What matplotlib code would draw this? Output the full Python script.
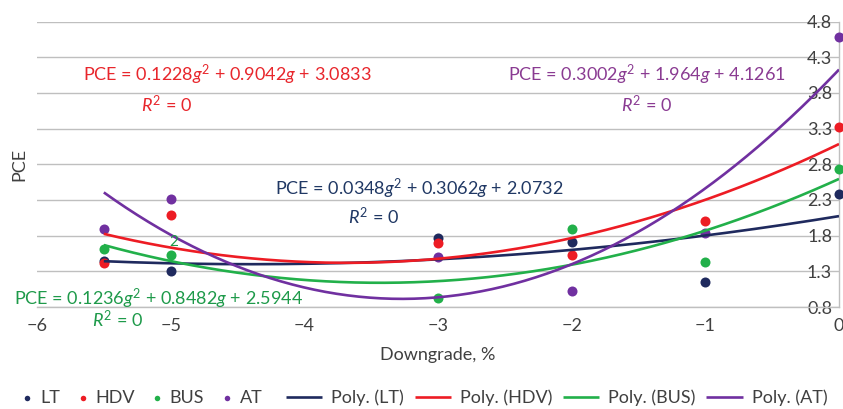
import numpy as np
import matplotlib.pyplot as plt

plt.rcParams['font.family'] = ['Lato', 'DejaVu Sans']
plt.rcParams['mathtext.fontset'] = 'custom'
plt.rcParams['mathtext.rm'] = 'Lato'
plt.rcParams['mathtext.it'] = 'Lato:italic'

# downgrade (%) and PCE values
grade = [-5.5, -5, -3, -2, -1, 0]
lt = [1.44, 1.30, 1.77, 1.71, 1.15, 2.38]
hdv = [1.42, 2.09, 1.70, 1.53, 2.00, 3.32]
bus = [1.61, 1.53, 0.93, 1.89, 1.43, 2.73]
at = [1.89, 2.31, 1.50, 1.02, 1.84, 4.58]

# polynomial trendline coefficients as printed on the chart (g^2, g, 1)
lt_fit = [0.0348, 0.3062, 2.0732]
hdv_fit = [0.1228, 0.9042, 3.0833]
bus_fit = [0.1236, 0.8482, 2.5944]
at_fit = [0.3002, 1.964, 4.1261]

names = ['LT', 'HDV', 'BUS', 'AT']
colors = ['#1F2A5E', '#ED1C24', '#22B04A', '#7030A0']
label_colors = ['#203864', '#E8262C', '#1E9A4A', '#8A3B92']
# label anchor (x, y) for equation and R^2 text, data coords
eq_pos = [(-3.14, 2.45), (-4.58, 4.05), (-5.09, 0.91), (-1.44, 4.05)]
r2_pos = [(-3.48, 2.07), (-5.03, 3.64), (-5.40, 0.62), (-1.44, 3.64)]

ser = [lt, hdv, bus, at]
fits = [lt_fit, hdv_fit, bus_fit, at_fit]

fig = plt.figure(figsize=(8.43, 4.09), dpi=100)
ax = fig.add_axes([37/843, 1-307/409, 802/843, 285.5/409])

grid_c = '#BFBFBF'
txt_c = '#404040'

pts = []
for y, c in zip(ser, colors):
    pts.append(ax.scatter(grade, y, s=52, color=c, zorder=3, clip_on=False, linewidths=0))

xs = np.linspace(grade[0], grade[-1], 200)
lines = []
for f, c in zip(fits, colors):
    ln, = ax.plot(xs, np.polyval(f, xs), color=c, lw=1.9, zorder=4, solid_capstyle='butt')
    lines.append(ln)

def fmt(v):
    return ('%.4f' % v).rstrip('0')

for f, lc, ep, rp in zip(fits, label_colors, eq_pos, r2_pos):
    s = 'PCE = %s$g^2$ + %s$g$ + %s' % (fmt(f[0]), fmt(f[1]), fmt(f[2]))
    ax.text(ep[0], ep[1], s, color=lc, fontsize=13, ha='center', va='center', zorder=5)
    ax.text(rp[0], rp[1], '$R^2$ = 0', color=lc, fontsize=13, ha='center', va='center', zorder=5)

# stray superscript left over from a hidden label
ax.text(-4.98, 1.71, '2', color=label_colors[2], fontsize=11, ha='center', va='center', zorder=5)

ax.set_xlim(-6, 0)
ax.set_ylim(0.8, 4.8)
ax.set_xticks(range(-6, 1))
yt = np.arange(0.8, 4.85, 0.5)
ax.set_yticks(yt)
ax.set_yticklabels(['%.1f' % v for v in yt])
ax.yaxis.tick_right()
ax.tick_params(axis='y', length=0, pad=-5, labelsize=13, labelcolor=txt_c)
ax.tick_params(axis='x', length=0, pad=8, labelsize=13, labelcolor=txt_c)
for lbl in ax.get_yticklabels():
    lbl.set_horizontalalignment('right')
ax.grid(axis='y', color=grid_c, lw=1.0)
ax.set_axisbelow(True)
for sp in ['top', 'left']:
    ax.spines[sp].set_visible(False)
for sp in ['right', 'bottom']:
    ax.spines[sp].set_color(grid_c)
    ax.spines[sp].set_linewidth(1.0)

ax.set_ylabel('PCE', fontsize=13, color=txt_c)
ax.yaxis.set_label_position('left')
ax.yaxis.set_label_coords(-0.0125, 0.5)
ax.set_xlabel('Downgrade, %', fontsize=13, color=txt_c)
ax.xaxis.set_label_coords(0.5, -0.168)
ax.xaxis.label.set_va('center')

leg1 = fig.legend(pts, names, loc='center left', bbox_to_anchor=(22/843, 1-398/409),
                  ncol=4, frameon=False, handlelength=0.6, handletextpad=0.4,
                  columnspacing=0.95, borderpad=0, borderaxespad=0, markerscale=0.55,
                  fontsize=13, labelcolor=txt_c)
leg2 = fig.legend(lines, ['Poly. (%s)' % n for n in names], loc='center left',
                  bbox_to_anchor=(286/843, 1-398/409), ncol=4, frameon=False,
                  handlelength=2.0, handletextpad=0.5, columnspacing=0.6,
                  borderpad=0, borderaxespad=0, fontsize=13, labelcolor=txt_c)

fig.savefig('out.png', dpi=100)
